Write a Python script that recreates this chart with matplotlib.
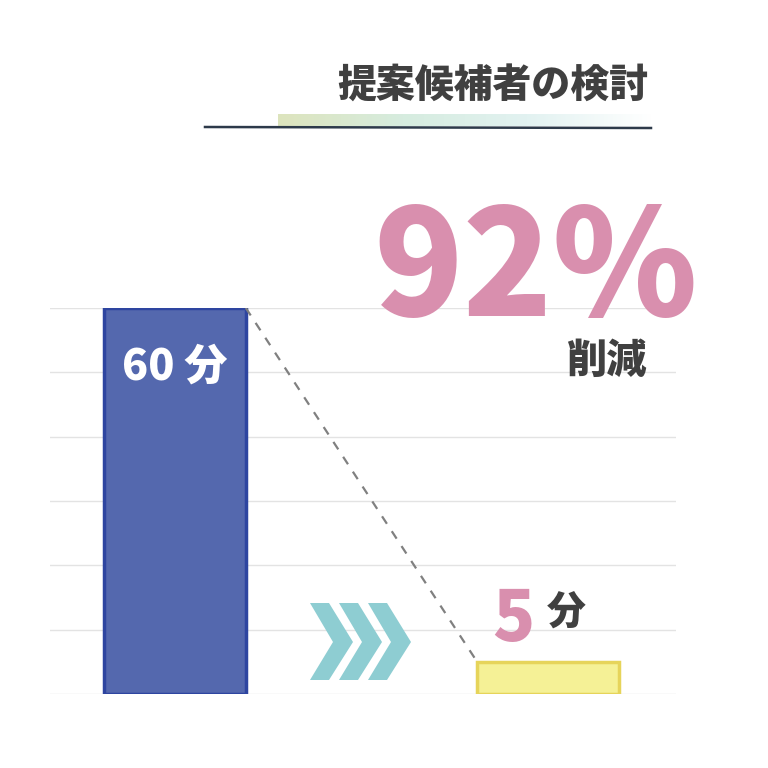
import numpy as np
import matplotlib
matplotlib.use('Agg')
import matplotlib.pyplot as plt
from matplotlib.patches import Polygon
from matplotlib.colors import LinearSegmentedColormap

plt.rcParams['font.family'] = ['Noto Sans CJK JP', 'DejaVu Sans']

# datos
etiquetas = ['antes', 'después']
minutos = [60, 5]
textos_barras = ['60 分', '5']
titulo = '提案候補者の検討'
reduccion = '92%'
texto_reduccion = '削減'
unidad = '分'

fig = plt.figure(figsize=(7.68, 7.68), dpi=100)
W = 768.0

# ejes del gráfico (en píxeles de la imagen)
ax = fig.add_axes([50 / W, 74 / W, 626 / W, 386 / W])
x = np.arange(len(minutos))
colores = ['#5468ae', '#f5f196']
bordes = ['#2e45a0', '#e6d45a']
barras = ax.bar(x, minutos, width=0.38, color=colores, edgecolor=bordes,
                linewidth=2.5, zorder=3)
ax.set_xlim(-0.335, 1.343)
ax.set_ylim(0, 60)
ax.set_yticks(np.arange(0, 61, 10))
ax.grid(axis='y', color='#e3e3e3', linewidth=1, zorder=0)
ax.tick_params(left=False, bottom=False, labelleft=False, labelbottom=False)
for s in ax.spines.values():
    s.set_visible(False)

# línea discontinua desde la esquina de la barra 1 a la barra 2
b1, b2 = barras[0], barras[1]
ax.plot([b1.get_x() + b1.get_width(), b2.get_x()], [minutos[0], minutos[1]],
        linestyle=(0, (4, 4)), color='#808080', linewidth=1.6, zorder=4)

# etiqueta dentro de la barra 1
ax.text(x[0], minutos[0] - 9.2, textos_barras[0], color='white', fontsize=31,
        fontweight='heavy', ha='center', va='center', zorder=5)

# capa superior en píxeles para decoración
ov = fig.add_axes([0, 0, 1, 1], zorder=10)
ov.set_xlim(0, 768)
ov.set_ylim(768, 0)
ov.axis('off')
ov.patch.set_alpha(0)

# título y subrayado
ov.text(648, 86, titulo, color='#404040', fontsize=28, fontweight='heavy',
        ha='right', va='center')
cmap = LinearSegmentedColormap.from_list('g', ['#dde4bd', '#d6ecdf', '#e2f2f1', '#ffffff'])
grad = np.linspace(0, 1, 256).reshape(1, -1)
ov.imshow(grad, cmap=cmap, extent=[278, 652, 126, 114], aspect='auto', zorder=1)
ov.plot([205, 651], [127, 128], color='#2d3a4a', linewidth=1.8, zorder=2)
ov.set_xlim(0, 768)
ov.set_ylim(768, 0)

# 92% 削減
ov.text(536, 273, reduccion, color='#d98fae', fontsize=106, fontweight='heavy',
        ha='center', va='center')
ov.text(647, 361, texto_reduccion, color='#404040', fontsize=29,
        fontweight='heavy', ha='right', va='center')

# 5 分
ov.text(513, 620, textos_barras[1], color='#d98fae', fontsize=50,
        fontweight='heavy', ha='center', va='center')
ov.text(566, 613, unidad, color='#404040', fontsize=28, fontweight='heavy',
        ha='center', va='center')

# flechas
for x0 in [310, 339, 368]:
    forma = [(x0, 603), (x0 + 19, 603), (x0 + 43, 642), (x0 + 19, 680),
             (x0, 680), (x0 + 23, 642)]
    ov.add_patch(Polygon(forma, closed=True, color='#8ecdd2', linewidth=0))

fig.savefig('out.png', dpi=100, facecolor='white')
